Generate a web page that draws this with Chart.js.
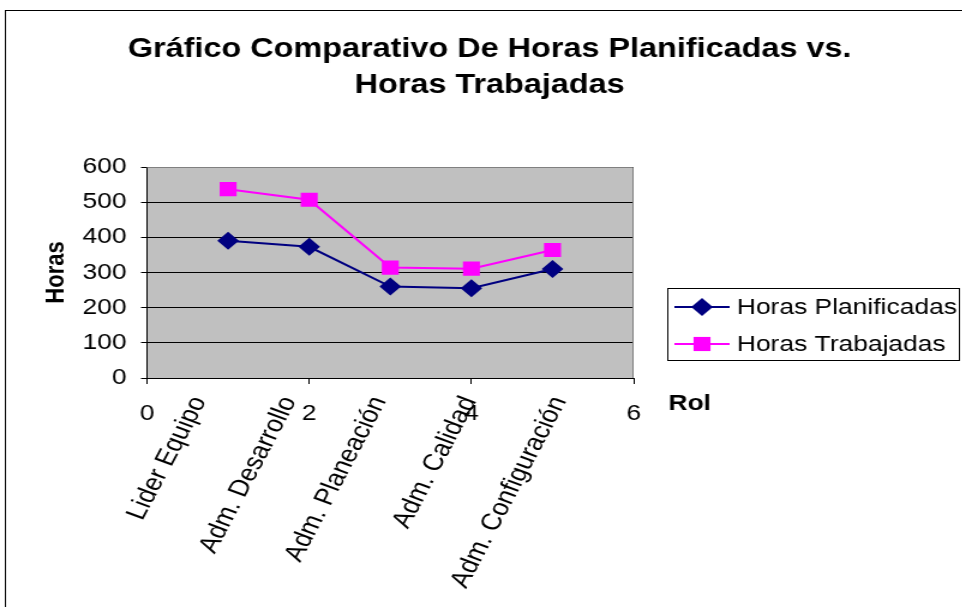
<!DOCTYPE html>
<html lang="es">
<head>
<meta charset="UTF-8">
<title>Horas Planificadas vs. Horas Trabajadas</title>
<script src="https://cdn.jsdelivr.net/npm/chart.js@4.4.4/dist/chart.umd.min.js"></script>
<style>
  html, body { margin: 0; padding: 0; background: #fff; overflow: hidden; }
  #wrap { position: relative; width: 962px; height: 607px; overflow: hidden; }
  /* the original picture is stretched sideways, so draw narrow and widen it */
  #chart { transform: scaleX(1.2); transform-origin: 0 0; }
</style>
</head>
<body>
<div id="wrap"><canvas id="chart" width="802" height="607"></canvas></div>
<script>
// Roles sit at x = 1..5 on a numeric 0..6 axis (Excel XY chart)
const roles = ['Lider Equipo', 'Adm. Desarrollo', 'Adm. Planeación', 'Adm. Calidad', 'Adm. Configuración'];
const rolePositions = [1, 2, 3, 4, 5];
const horasPlanificadas = [390, 373, 260, 255, 310];
const horasTrabajadas = [537, 507, 314, 311, 364];
const xTicks = [0, 2, 4, 6];
const yTicks = [0, 100, 200, 300, 400, 500, 600];

const FONT = '"Liberation Sans", Arial, sans-serif';
const NAVY = '#000080';
const MAGENTA = '#FF00FF';

const toPoints = (vals) => vals.map((v, i) => ({ x: rolePositions[i], y: v }));

// Frame, grey plot background, title, rotated role names, "Rol" and legend.
const decorations = {
    id: 'decorations',
    beforeDraw(chart) {
        const { ctx, chartArea: a } = chart;
        ctx.save();
        ctx.fillStyle = '#fff';
        ctx.fillRect(0, 0, chart.width, chart.height);
        ctx.strokeStyle = '#000';
        ctx.lineWidth = 1;
        ctx.strokeRect(4.5, 10.5, 1200, 1200);
        ctx.fillStyle = '#C0C0C0';
        ctx.fillRect(a.left, a.top, a.right - a.left, a.bottom - a.top);
        ctx.restore();
    },
    afterDraw(chart) {
        const { ctx, chartArea: a } = chart;
        const xs = chart.scales.x;
        ctx.save();
        // grey top/right border of plot area
        ctx.strokeStyle = '#808080';
        ctx.lineWidth = 1;
        ctx.beginPath();
        ctx.moveTo(a.left, a.top + 0.5);
        ctx.lineTo(a.right - 0.5, a.top + 0.5);
        ctx.lineTo(a.right - 0.5, a.bottom);
        ctx.stroke();

        // title
        ctx.fillStyle = '#000';
        ctx.textAlign = 'center';
        ctx.textBaseline = 'middle';
        ctx.font = 'bold 27px ' + FONT;
        ctx.fillText('Gráfico Comparativo De Horas Planificadas vs.', 408, 50);
        ctx.fillText('Horas Trabajadas', 408, 86);

        // axis title "Rol"
        ctx.textAlign = 'left';
        ctx.font = 'bold 22px ' + FONT;
        ctx.fillText('Rol', 557, 404);

        // rotated role names, slightly fanned out around the middle tick
        ctx.font = '23.5px ' + FONT;
        const mid = xs.getPixelForValue((xs.min + xs.max) / 2);
        roles.forEach((name, i) => {
            const px = xs.getPixelForValue(rolePositions[i]);
            ctx.save();
            ctx.translate(mid - 9 + (px - mid) * 1.11, 398);
            ctx.rotate(-66 * Math.PI / 180);
            ctx.textAlign = 'right';
            ctx.textBaseline = 'middle';
            ctx.fillText(name, 0, 0);
            ctx.restore();
        });

        // legend
        ctx.strokeStyle = '#000';
        ctx.lineWidth = 1;
        ctx.strokeRect(556.5, 288.5, 243, 72);
        const rows = [307, 344];
        chart.data.datasets.forEach((ds, i) => {
            const y = rows[i];
            ctx.strokeStyle = ds.borderColor;
            ctx.lineWidth = 2;
            ctx.beginPath();
            ctx.moveTo(562, y);
            ctx.lineTo(608, y);
            ctx.stroke();
            ctx.fillStyle = ds.backgroundColor;
            Chart.helpers.drawPoint(ctx, { pointStyle: ds.pointStyle, radius: ds.pointRadius, rotation: 0, borderWidth: 0 }, 585, y);
            ctx.fillStyle = '#000';
            ctx.textAlign = 'left';
            ctx.textBaseline = 'middle';
            ctx.font = '22px ' + FONT;
            ctx.fillText(ds.label, 614, y + 1);
        });
        ctx.restore();
    }
};

new Chart(document.getElementById('chart'), {
    type: 'scatter',
    data: {
        datasets: [
            {
                label: 'Horas Planificadas',
                data: toPoints(horasPlanificadas),
                showLine: true,
                borderColor: NAVY,
                backgroundColor: NAVY,
                borderWidth: 2,
                pointStyle: 'rectRot',
                pointRadius: 9,
                pointBorderWidth: 0,
            },
            {
                label: 'Horas Trabajadas',
                data: toPoints(horasTrabajadas),
                showLine: true,
                borderColor: MAGENTA,
                backgroundColor: MAGENTA,
                borderWidth: 2,
                pointStyle: 'rect',
                pointRadius: 10,
                pointBorderWidth: 0,
            },
        ],
    },
    options: {
        responsive: false,
        animation: false,
        layout: { padding: { left: 0, top: 167, right: 274, bottom: 0 } },
        plugins: {
            legend: { display: false },
            title: { display: false },
            tooltip: { enabled: false },
        },
        scales: {
            x: {
                type: 'linear',
                min: 0,
                max: 6,
                afterBuildTicks: (s) => { s.ticks = xTicks.map((v) => ({ value: v })); },
                afterFit: (s) => { s.height = 229; },
                ticks: { color: '#000', font: { family: FONT, size: 22 }, padding: 17, maxRotation: 0 },
                grid: { drawOnChartArea: false, drawTicks: true, tickLength: 6, color: '#000' },
                border: { color: '#000', width: 1 },
            },
            y: {
                min: 0,
                max: 600,
                afterBuildTicks: (s) => { s.ticks = yTicks.map((v) => ({ value: v })); },
                afterFit: (s) => { s.width = 122.5; },
                ticks: { color: '#000', font: { family: FONT, size: 22 }, padding: 12 },
                grid: { color: '#000', lineWidth: 1, tickLength: 5 },
                border: { color: '#000', width: 1 },
                title: {
                    display: true,
                    text: 'Horas',
                    color: '#000',
                    font: { family: FONT, size: 22, weight: 'bold' },
                    padding: { top: 34, bottom: 0 },
                },
            },
        },
    },
    plugins: [decorations],
});
</script>
</body>
</html>
